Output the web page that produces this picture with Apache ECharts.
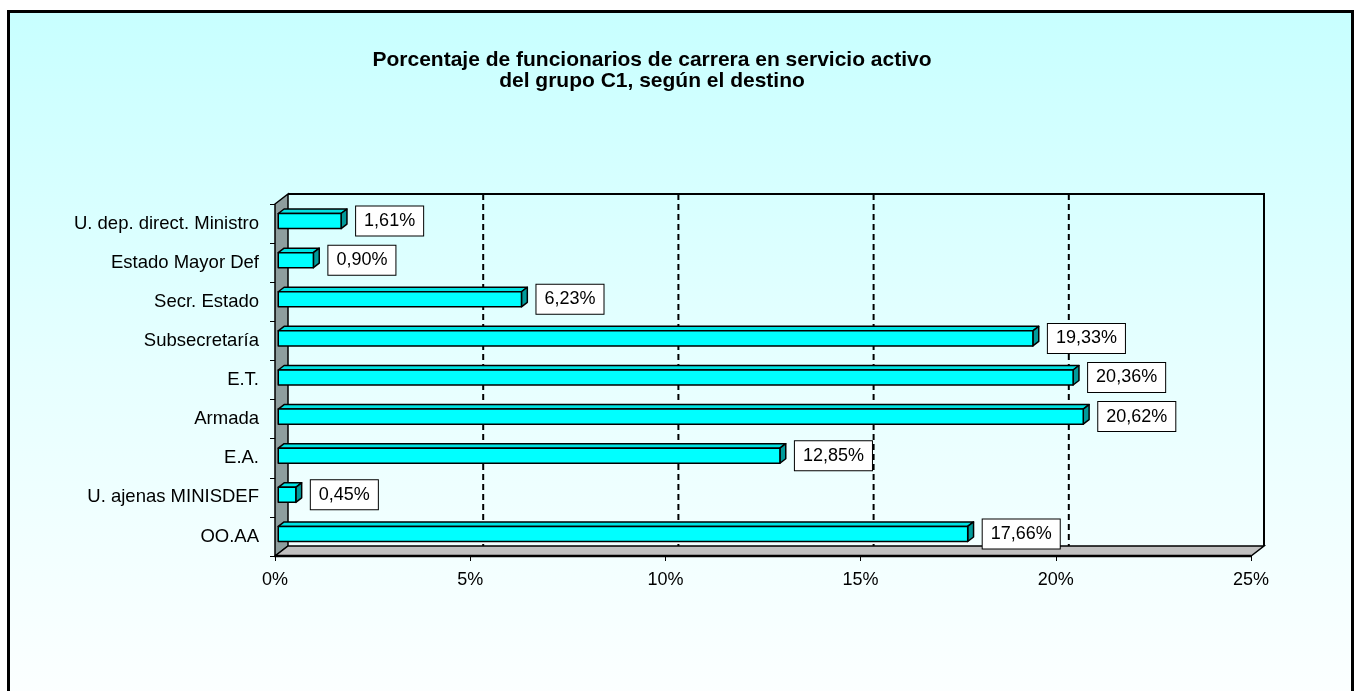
<!DOCTYPE html>
<html>
<head>
<meta charset="utf-8">
<script src="https://cdn.jsdelivr.net/npm/echarts@6/dist/echarts.min.js"></script>
<style>
  html, body { margin: 0; padding: 0; background: #ffffff; }
  #panel {
    position: absolute; left: 7px; top: 10px; width: 1341px; height: 700px;
    border: 3px solid #000;
    background: linear-gradient(to bottom, #c8ffff 0%, #e6ffff 50%, #fdffff 100%);
  }
  #chart { position: absolute; left: 0; top: 0; width: 1354px; height: 691px; }
</style>
</head>
<body>
<div id="panel"></div>
<div id="chart"></div>
<script>
// Destinos, de arriba abajo
const categories = [
  'U. dep. direct. Ministro',
  'Estado Mayor Def',
  'Secr. Estado',
  'Subsecretaría',
  'E.T.',
  'Armada',
  'E.A.',
  'U. ajenas MINISDEF',
  'OO.AA'
];
// Porcentaje de funcionarios por destino
const values = [1.61, 0.90, 6.23, 19.33, 20.36, 20.62, 12.85, 0.45, 17.66];
// Marcas del eje de valores (%)
const xTicks = [0, 5, 10, 15, 20, 25];

const titleLines = [
  'Porcentaje de funcionarios de carrera en servicio activo',
  'del grupo C1, según el destino'
];

// Profundidad de la vista en perspectiva (desplazamiento del plano trasero)
const DX = 13, DY = -10;
const FONT = '"Liberation Sans", Arial, sans-serif';

const fmt = v => v.toFixed(2).replace('.', ',') + '%';

const chart = echarts.init(document.getElementById('chart'), null, { renderer: 'canvas' });

// Paredes: lateral izquierda, suelo y bordes del fondo
function renderFrame(params, api) {
  const cs = params.coordSys;
  const x0 = cs.x, x1 = cs.x + cs.width, yT = cs.y, yB = cs.y + cs.height;
  return {
    type: 'group',
    children: [
      { type: 'polygon', shape: { points: [[x0, yT], [x0 + DX, yT + DY], [x0 + DX, yB + DY], [x0, yB]] },
        style: { fill: '#8e9e9e', stroke: '#000', lineWidth: 1.5 } },
      { type: 'polygon', shape: { points: [[x0, yB], [x0 + DX, yB + DY], [x1 + DX, yB + DY], [x1, yB]] },
        style: { fill: '#c0c0c0', stroke: '#000', lineWidth: 1.5 } },
      { type: 'polyline', shape: { points: [[x0 + DX, yT + DY], [x1 + DX, yT + DY], [x1 + DX, yB + DY]] },
        style: { fill: null, stroke: '#000', lineWidth: 2 } },
      { type: 'line', shape: { x1: x0, y1: yB, x2: x1, y2: yB },
        style: { stroke: '#000', lineWidth: 2.5 } }
    ]
  };
}

// Líneas de división discontinuas en la pared del fondo
function renderGridLine(params, api) {
  const cs = params.coordSys;
  const x = api.coord([api.value(0), 0])[0] + DX;
  return {
    type: 'line',
    shape: { x1: x, y1: cs.y + DY, x2: x, y2: cs.y + cs.height + DY },
    style: { stroke: '#000', lineWidth: 2, lineDash: [6, 4] }
  };
}

// Barra en 3D con su etiqueta de valor
function renderBar(params, api) {
  const cat = api.value(0);
  const v = api.value(1);
  const c0 = api.coord([0, cat]);
  const c1 = api.coord([v, cat]);
  const band = api.size([0, 1])[1];
  const h = band * 0.385;
  const F1 = 0.25, F2 = 0.7;
  const p = (x, y, d) => [x + d * DX, y + d * DY];
  const yT = c0[1] - h / 2, yB = c0[1] + h / 2;
  const fTL = p(c0[0], yT, F1), fTR = p(c1[0], yT, F1), fBR = p(c1[0], yB, F1), fBL = p(c0[0], yB, F1);
  const bTL = p(c0[0], yT, F2), bTR = p(c1[0], yT, F2), bBR = p(c1[0], yB, F2);
  const edge = { stroke: '#000', lineWidth: 1.5, lineJoin: 'round' };
  return {
    type: 'group',
    children: [
      { type: 'polygon', shape: { points: [fTL, bTL, bTR, fTR] },
        style: Object.assign({ fill: '#00e2e2' }, edge) },
      { type: 'polygon', shape: { points: [fTR, bTR, bBR, fBR] },
        style: Object.assign({ fill: '#009b9b' }, edge) },
      { type: 'polygon', shape: { points: [fTL, fTR, fBR, fBL] },
        style: Object.assign({ fill: '#00ffff' }, edge) },
      { type: 'text',
        style: {
          text: fmt(v), x: fTR[0] + 15, y: fTR[1] + h / 2,
          align: 'left', verticalAlign: 'middle',
          font: '18px ' + FONT, fill: '#000',
          backgroundColor: '#ffffff', borderColor: '#000', borderWidth: 1,
          padding: [6, 8, 5, 8]
        } }
    ]
  };
}

const option = {
  animation: false,
  backgroundColor: 'transparent',
  graphic: [{
    type: 'text',
    style: {
      text: titleLines.join('\n'),
      x: 652, y: 50, align: 'center', verticalAlign: 'top',
      font: 'bold 21px ' + FONT, lineHeight: 21, fill: '#000'
    }
  }],
  grid: { left: 275, right: 103, top: 204, bottom: 135, containLabel: false },
  xAxis: {
    type: 'value', min: 0, max: 25, interval: 5,
    axisLine: { show: false },
    axisTick: { show: true, length: 5, lineStyle: { color: '#000', width: 1 } },
    axisLabel: { formatter: '{value}%', color: '#000', fontSize: 18, fontFamily: FONT, margin: 15 },
    splitLine: { show: false }
  },
  yAxis: {
    type: 'category', inverse: true, data: categories,
    axisLine: { show: false },
    axisTick: { show: true, length: 5, lineStyle: { color: '#000', width: 1 } },
    axisLabel: { color: '#000', fontSize: 18.5, fontFamily: FONT, margin: 16 }
  },
  series: [
    { type: 'custom', name: 'marco', renderItem: renderFrame, data: [[0, 0]],
      encode: { x: 0, y: 1 }, z: 1, silent: true },
    { type: 'custom', name: 'divisiones', renderItem: renderGridLine,
      data: xTicks.slice(1, -1).map(t => [t, 0]), encode: { x: 0, y: 1 }, z: 2, silent: true },
    { type: 'custom', name: 'porcentaje', renderItem: renderBar,
      data: values.map((v, i) => [i, v]), encode: { x: 1, y: 0 }, z: 3 }
  ]
};

chart.setOption(option);
</script>
</body>
</html>
